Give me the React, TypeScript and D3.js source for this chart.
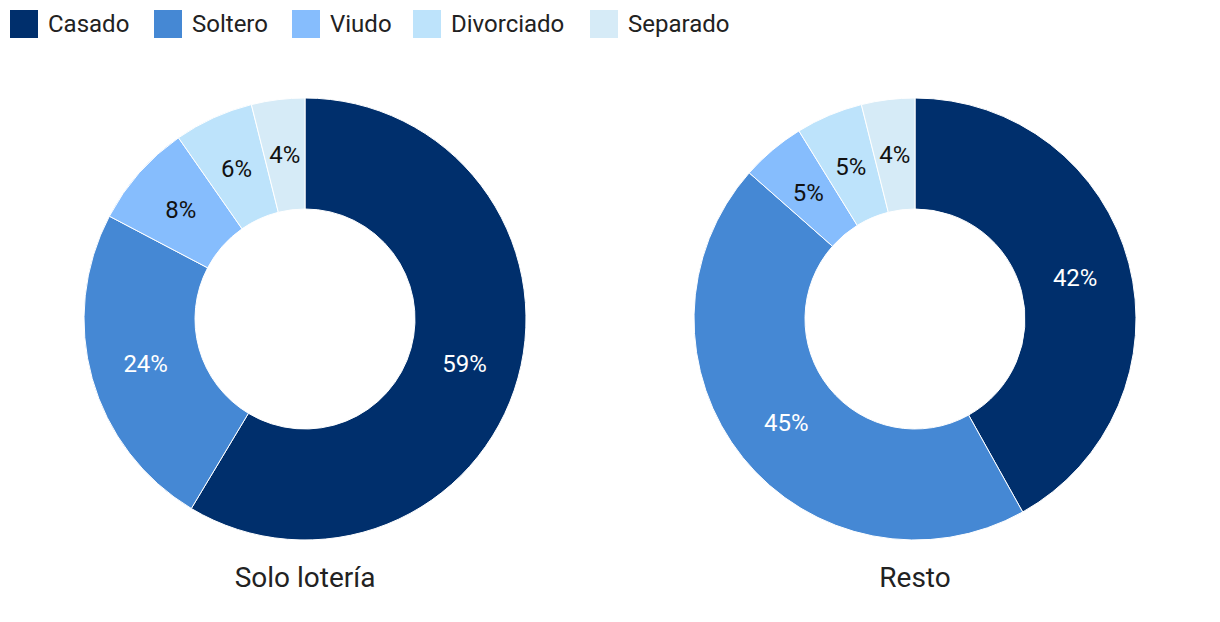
import React from "react";
import * as d3 from "d3";

const categories = ["Casado", "Soltero", "Viudo", "Divorciado", "Separado"];
const colors = ["#002f6c", "#4588d4", "#86bdfd", "#bde3fb", "#d6ebf7"];
const labelColors = ["#ffffff", "#ffffff", "#111111", "#111111", "#111111"];
const soloLoteria = [58.6, 24.1, 7.6, 5.8, 3.9];
const resto = [41.9, 44.6, 4.7, 4.9, 3.9];
const titles = ["Solo lotería", "Resto"];
const legendX = [10, 154, 292, 413, 590];

const W = 1220;
const H = 622;
const font = "Roboto, 'Noto Sans', sans-serif";

function Donut({ values, cx, cy, title }: { values: number[]; cx: number; cy: number; title: string }) {
  const outer = 221;
  const inner = 110;
  const pie = d3.pie<number>().value((d) => d).sort(null);
  const arcs = pie(values);
  const arc = d3.arc<d3.PieArcDatum<number>>().innerRadius(inner).outerRadius(outer);
  return (
    <g transform={`translate(${cx},${cy})`}>
      {arcs.map((a, i) => (
        <path key={i} d={arc(a) || ""} fill={colors[i]} stroke="#ffffff" strokeWidth={1} />
      ))}
      {arcs.map((a, i) => {
        const [x, y] = arc.centroid(a);
        return (
          <text key={"l" + i} x={x} y={y} dy="0.35em" textAnchor="middle" fontSize={24} fill={labelColors[i]} fontFamily={font}>
            {Math.round(values[i])}%
          </text>
        );
      })}
      <text x={0} y={258} dy="0.35em" textAnchor="middle" fontSize={28} fill="#222222" fontFamily={font}>
        {title}
      </text>
    </g>
  );
}

export default function App() {
  return (
    <svg width={W} height={H} style={{ position: "absolute", left: 0, top: 0, background: "#fff" }}>
      <g>
        {categories.map((c, i) => (
          <g key={c} transform={`translate(${legendX[i]},10)`}>
            <rect x={0} y={0} width={28} height={28} fill={colors[i]} />
            <text x={38} y={14} dy="0.35em" fontSize={24} fill="#222222" fontFamily={font}>
              {c}
            </text>
          </g>
        ))}
      </g>
      <Donut values={soloLoteria} cx={305} cy={319} title={titles[0]} />
      <Donut values={resto} cx={915} cy={319} title={titles[1]} />
    </svg>
  );
}
